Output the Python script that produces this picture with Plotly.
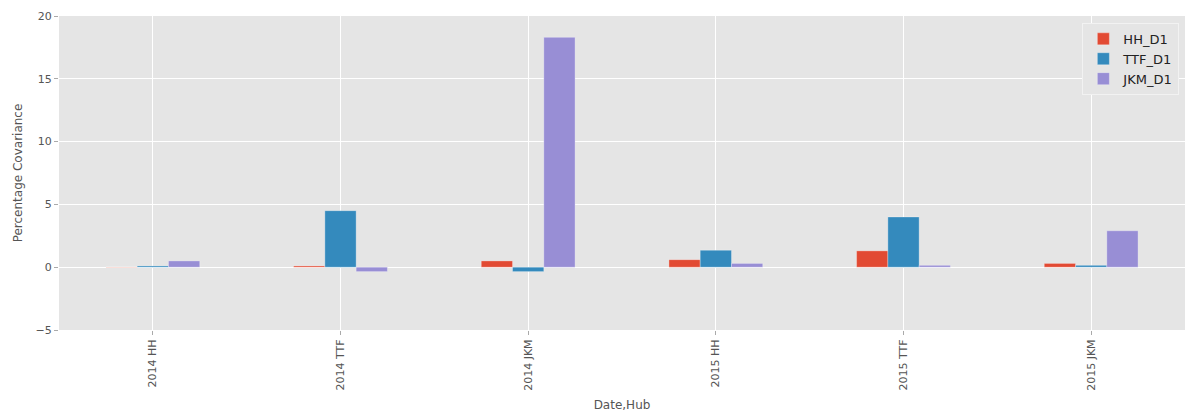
import plotly.graph_objects as go

categories = ["2014 HH", "2014 TTF", "2014 JKM", "2015 HH", "2015 TTF", "2015 JKM"]
hh_d1 = [0.02, 0.1, 0.5, 0.6, 1.3, 0.3]
ttf_d1 = [0.1, 4.5, -0.35, 1.35, 4.0, 0.15]
jkm_d1 = [0.5, -0.35, 18.3, 0.3, 0.15, 2.9]

series = [("HH_D1", hh_d1, "#E24A33"), ("TTF_D1", ttf_d1, "#348ABD"), ("JKM_D1", jkm_d1, "#988ED5")]

fig = go.Figure()
for name, vals, col in series:
    fig.add_bar(x=categories, y=vals, name=name,
                marker=dict(color=col, line=dict(color="rgba(255,255,255,0.5)", width=0.6)))

font = "DejaVu Sans"
fig.update_layout(
    width=1187, height=412,
    margin=dict(l=59, r=2, t=16, b=82, autoexpand=False),
    paper_bgcolor="white", plot_bgcolor="#E5E5E5",
    barmode="group", bargap=0.5, bargroupgap=0,
    font=dict(family=font, color="#555555", size=11),
    legend=dict(x=0.995, y=0.978, xanchor="right", yanchor="top",
                bgcolor="#E5E5E5", bordercolor="#F2F2F2", borderwidth=1,
                font=dict(size=13, color="#222222"), tracegroupgap=2),
    xaxis=dict(range=[-0.5, 5.5], tickangle=-90, showgrid=True, gridcolor="white",
               ticks="outside", ticklen=4, tickcolor="#AAAAAA", tickfont=dict(size=11),
               automargin=False,
               title=dict(text="Date,Hub", font=dict(size=12), standoff=14)),
    yaxis=dict(range=[-5, 20], dtick=5, showgrid=True, gridcolor="white",
               zeroline=True, zerolinecolor="white", zerolinewidth=1,
               ticks="outside", ticklen=4, tickcolor="#AAAAAA", tickfont=dict(size=11),
               automargin=False,
               title=dict(text="Percentage Covariance", font=dict(size=12), standoff=10)),
)

# drop the default page margin so the figure sits at the window's corner
fig.write_html("out.html", config={"displayModeBar": False},
               post_script="document.body.style.margin='0';")
